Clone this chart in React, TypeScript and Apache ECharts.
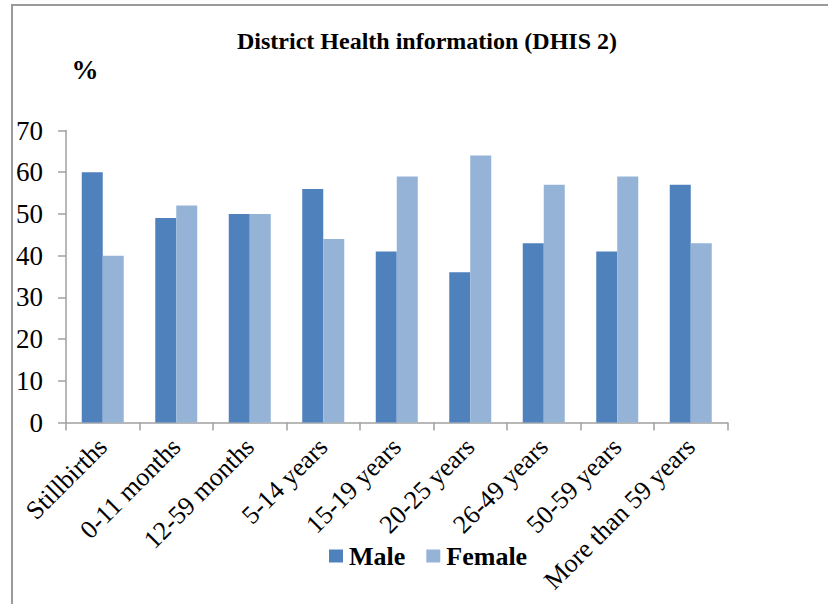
import React, { useEffect, useRef } from "react";
import * as echarts from "echarts";

const categories = [
  "Stillbirths",
  "0-11 months",
  "12-59 months",
  "5-14 years",
  "15-19 years",
  "20-25 years",
  "26-49 years",
  "50-59 years",
  "More than 59 years",
];
const maleValues = [60, 49, 50, 56, 41, 36, 43, 41, 57];
const femaleValues = [40, 52, 50, 44, 59, 64, 57, 59, 43];
const seriesNames = ["Male", "Female"];
const titleText = "District Health information (DHIS 2)";
const unitText = "%";

const FONT = "'Liberation Serif', 'Times New Roman', serif";

export default function App() {
  const ref = useRef<HTMLDivElement>(null);
  useEffect(() => {
    if (!ref.current) return;
    const chart = echarts.init(ref.current, null, { renderer: "svg" });
    chart.setOption({
      animation: false,
      backgroundColor: "#ffffff",
      textStyle: { fontFamily: FONT },
      graphic: [
        {
          type: "line",
          shape: { x1: 12, y1: 5, x2: 12, y2: 604 },
          style: { stroke: "#9a9a9a", lineWidth: 2 },
        },
        {
          type: "line",
          shape: { x1: 11, y1: 5, x2: 828, y2: 5 },
          style: { stroke: "#9a9a9a", lineWidth: 2 },
        },
        {
          type: "text",
          x: 427,
          y: 41,
          style: {
            text: titleText,
            fontFamily: FONT,
            fontWeight: "bold",
            fontSize: 24,
            fill: "#000",
            textAlign: "center",
            textVerticalAlign: "middle",
          },
        },
        {
          type: "text",
          x: 85,
          y: 70,
          style: {
            text: unitText,
            fontFamily: FONT,
            fontWeight: "bold",
            fontSize: 27,
            fill: "#000",
            textAlign: "center",
            textVerticalAlign: "middle",
          },
        },
      ],
      legend: {
        data: seriesNames,
        left: 324,
        top: 538,
        itemWidth: 14,
        itemHeight: 13,
        itemGap: 21,
        icon: "rect",
        textStyle: {
          fontFamily: FONT,
          fontWeight: "bold",
          fontSize: 26,
          color: "#000",
          padding: [0, 0, 0, 1],
        },
      },
      grid: { left: 66, right: 100.5, top: 130.5, bottom: 181.5, containLabel: false },
      xAxis: {
        type: "category",
        data: categories,
        axisLine: { lineStyle: { color: "#a0a0a0", width: 1.5 } },
        axisTick: { show: true, length: 8, alignWithLabel: false, lineStyle: { color: "#a0a0a0", width: 1.5 } },
        axisLabel: {
          interval: 0,
          rotate: 45,
          margin: 20,
          fontFamily: FONT,
          fontSize: 26,
          color: "#000",
        },
      },
      yAxis: {
        type: "value",
        min: 0,
        max: 70,
        interval: 10,
        splitLine: { show: false },
        axisLine: { show: true, lineStyle: { color: "#a0a0a0", width: 1.5 } },
        axisTick: { show: true, length: 8, lineStyle: { color: "#a0a0a0", width: 1.5 } },
        axisLabel: {
          margin: 23,
          fontFamily: FONT,
          fontSize: 27,
          color: "#000",
        },
      },
      series: [
        {
          name: seriesNames[0],
          type: "bar",
          data: maleValues,
          barWidth: 21,
          barGap: "0%",
          itemStyle: { color: "#4F81BD" },
        },
        {
          name: seriesNames[1],
          type: "bar",
          data: femaleValues,
          barWidth: 21,
          barGap: "0%",
          itemStyle: { color: "#95B3D7" },
        },
      ],
    });
    return () => chart.dispose();
  }, []);
  return (
    <div
      ref={ref}
      style={{ position: "fixed", left: 0, top: 0, width: 828, height: 604 }}
    />
  );
}
